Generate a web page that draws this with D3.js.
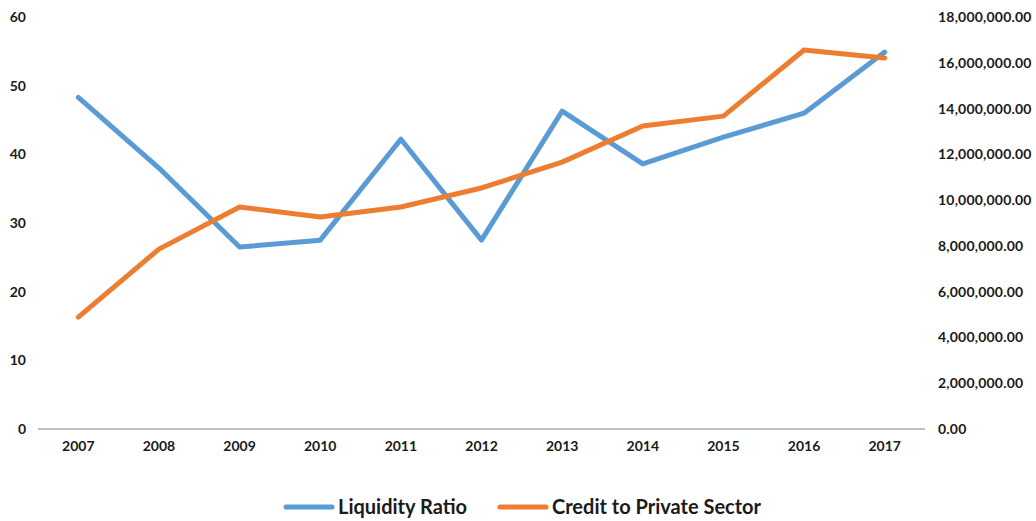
<!DOCTYPE html>
<html>
<head>
<meta charset="utf-8">
<script src="https://cdn.jsdelivr.net/npm/d3@7"></script>
<style>
  body { margin: 0; background: #fff; }
  text { font-family: "Lato", "DejaVu Sans", sans-serif; font-weight: bold; fill: #1a1a1a; }
</style>
</head>
<body>
<svg id="chart" width="1036" height="521"></svg>
<script>
// chart data
var years = ["2007", "2008", "2009", "2010", "2011", "2012", "2013", "2014", "2015", "2016", "2017"];
var liquidity = [48.3, 38.0, 26.5, 27.5, 42.2, 27.5, 46.3, 38.6, 42.5, 46.0, 54.9];
var credit = [4890000, 7860000, 9700000, 9260000, 9700000, 10530000, 11660000, 13240000, 13670000, 16560000, 16210000];
var leftTicks = [0, 10, 20, 30, 40, 50, 60];
var rightTicks = [0, 2000000, 4000000, 6000000, 8000000, 10000000, 12000000, 14000000, 16000000, 18000000];

var svg = d3.select("#chart");

var x = d3.scaleBand().domain(years).range([38, 925]);
var yL = d3.scaleLinear().domain([0, 60]).range([429, 17]);
var yR = d3.scaleLinear().domain([0, 18000000]).range([429, 17]);

// baseline
svg.append("line")
    .attr("x1", 38).attr("x2", 925)
    .attr("y1", yL(0)).attr("y2", yL(0))
    .attr("stroke", "#bfbfbf").attr("stroke-width", 2);

// left axis
var leftAxis = svg.append("g")
    .attr("transform", "translate(26,0)")
    .call(d3.axisLeft(yL).tickValues(leftTicks).tickSize(0).tickPadding(0));
leftAxis.select(".domain").remove();
leftAxis.selectAll("text").style("font-size", "14px");

// right axis
var fmt = d3.format(",.2f");
var rightAxis = svg.append("g")
    .attr("transform", "translate(938,0)")
    .call(d3.axisRight(yR).tickValues(rightTicks).tickFormat(fmt).tickSize(0).tickPadding(0));
rightAxis.select(".domain").remove();
rightAxis.selectAll("text").style("font-size", "14px").style("letter-spacing", "0.2px");

// bottom axis
var bottomAxis = svg.append("g")
    .attr("transform", "translate(0,441)")
    .call(d3.axisBottom(x).tickSize(0).tickPadding(0));
bottomAxis.select(".domain").remove();
bottomAxis.selectAll("text").style("font-size", "14px");

// lines
var lineL = d3.line().x(function(d, i){ return x(years[i]) + x.bandwidth() / 2; }).y(function(d){ return yL(d); });
var lineR = d3.line().x(function(d, i){ return x(years[i]) + x.bandwidth() / 2; }).y(function(d){ return yR(d); });

svg.append("path").datum(liquidity)
    .attr("d", lineL)
    .attr("fill", "none").attr("stroke", "#5B9BD5")
    .attr("stroke-width", 5).attr("stroke-linecap", "round").attr("stroke-linejoin", "round");

svg.append("path").datum(credit)
    .attr("d", lineR)
    .attr("fill", "none").attr("stroke", "#ED7D31")
    .attr("stroke-width", 5).attr("stroke-linecap", "round").attr("stroke-linejoin", "round");

// legend
var legend = [
    {name: "Liquidity Ratio", color: "#5B9BD5", x: 286},
    {name: "Credit to Private Sector", color: "#ED7D31", x: 500}
];
legend.forEach(function(item){
    svg.append("line")
        .attr("x1", item.x).attr("x2", item.x + 46)
        .attr("y1", 507).attr("y2", 507)
        .attr("stroke", item.color).attr("stroke-width", 5).attr("stroke-linecap", "round");
    svg.append("text")
        .attr("x", item.x + 52).attr("y", 514)
        .style("font-size", "20px")
        .text(item.name);
});
</script>
</body>
</html>
